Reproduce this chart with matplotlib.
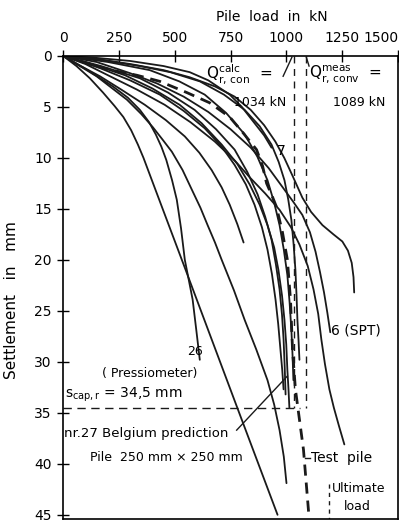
import matplotlib
import matplotlib.pyplot as plt

matplotlib.use("Agg")

plt.rcParams['font.family'] = ['DejaVu Sans']
plt.rcParams['mathtext.fontset'] = 'dejavusans'

# predicted load-settlement curves: load in kN, settlement in mm
load_7 = [0, 150, 300, 450, 567, 650, 746, 800, 857, 900, 933]
sett_7 = [0, 0.2, 0.5, 1.0, 1.6, 2.4, 3.8, 5.0, 6.6, 7.8, 9.0]

load_hook = [0, 150, 300, 450, 567, 680, 768, 840, 900, 950, 990, 1030, 1071,
             1110, 1161, 1210, 1250, 1275, 1292, 1300, 1303]
sett_hook = [0, 0.3, 0.8, 1.4, 2.1, 3.0, 4.0, 5.3, 6.8, 8.4, 10.0, 11.9, 13.9,
             15.3, 16.6, 17.5, 18.2, 19.1, 20.3, 21.7, 23.2]

load_spt = [0, 150, 300, 420, 540, 650, 750, 840, 920, 980, 1030, 1071, 1105,
            1130, 1150, 1168, 1183, 1196]
sett_spt = [0, 0.6, 1.7, 2.7, 4.0, 5.5, 7.2, 9.0, 11.0, 12.8, 14.3, 15.6, 17.3,
            19.2, 21.2, 23.2, 25.2, 27.1]

load_38 = [0, 100, 210, 330, 455, 570, 679, 770, 835, 905, 969, 1020, 1058,
           1095, 1121, 1142, 1156, 1172, 1192, 1212, 1235, 1259]
sett_38 = [0, 0.8, 2.0, 3.3, 4.8, 6.5, 8.4, 10.3, 11.9, 13.5, 15.1, 16.8, 18.5,
           20.6, 22.9, 25.3, 27.8, 30.2, 32.7, 34.5, 36.3, 38.1]

load_18 = [0, 80, 165, 260, 366, 460, 545, 610, 665, 710, 746, 780, 808]
sett_18 = [0, 1.0, 2.0, 3.3, 4.8, 6.3, 7.9, 9.5, 11.2, 12.9, 14.6, 16.5, 18.3]

load_26 = [0, 110, 223, 290, 344, 385, 415, 440, 462, 488, 509, 528, 545, 563,
           580, 597, 612]
sett_26 = [0, 1.4, 3.0, 4.1, 5.3, 6.5, 7.7, 8.9, 10.2, 12.2, 14.1, 16.9, 20.0,
           22.0, 23.9, 27.0, 29.8]

load_a1 = [0, 60, 120, 179, 230, 270, 305, 335, 360, 420, 554, 790, 960]
sett_a1 = [0, 1.0, 2.2, 3.6, 4.9, 6.0, 7.3, 8.7, 10.0, 13.5, 21.3, 35.1, 45.0]

load_a3 = [0, 150, 286, 350, 402, 445, 487, 535, 576, 615, 647, 680, 710, 765,
           813, 865, 915, 945, 969, 988, 1000]
sett_a3 = [0, 2.0, 4.3, 5.7, 7.0, 8.2, 9.4, 11.2, 13.1, 14.9, 16.6, 18.3, 20.0,
           23.0, 25.9, 28.8, 31.8, 34.2, 36.7, 39.3, 41.9]

load_27 = [0, 140, 277, 400, 522, 620, 710, 780, 835, 880, 915, 945, 964, 980,
           991, 999, 1004, 1009, 1013]
sett_27 = [0, 0.9, 1.9, 3.2, 4.8, 6.6, 8.7, 10.6, 12.6, 14.6, 16.6, 18.8, 21.0,
           23.5, 25.9, 28.3, 30.8, 32.7, 34.5]

load_b2 = [0, 170, 344, 470, 589, 685, 768, 825, 871, 905, 933, 953, 969, 980,
           987, 992, 996]
sett_b2 = [0, 1.0, 2.2, 3.6, 5.3, 7.2, 9.2, 11.4, 13.6, 15.8, 18.0, 20.5, 22.9,
           25.4, 27.8, 30.5, 33.2]

load_b3 = [0, 200, 388, 520, 634, 730, 813, 870, 915, 945, 969, 988, 1004, 1014,
           1022, 1027, 1031]
sett_b3 = [0, 0.6, 1.4, 2.5, 3.8, 5.6, 7.7, 9.9, 12.2, 14.4, 16.6, 19.0, 21.5,
           24.2, 26.9, 29.3, 31.8]

load_b5 = [0, 165, 300, 433, 540, 634, 710, 768, 818, 857, 890, 915, 935, 951,
           963, 973, 981, 987]
sett_b5 = [0, 1.2, 2.4, 3.8, 5.4, 7.1, 8.9, 10.7, 12.6, 14.6, 16.8, 19.0, 21.4,
           23.9, 26.3, 28.8, 30.8, 32.7]

load_b6 = [0, 170, 344, 480, 612, 720, 813, 880, 933, 965, 991, 1008, 1022, 1032,
           1040, 1045, 1049, 1054, 1058]
sett_b6 = [0, 0.4, 1.0, 1.6, 2.5, 3.8, 5.3, 6.9, 8.7, 10.4, 12.2, 14.1, 16.1, 18.5,
           21.0, 23.5, 25.9, 27.9, 29.8]

# measured test pile
load_test = [0, 90, 179, 260, 330, 433, 554, 656, 746, 804, 866, 893, 911, 935,
             955, 982, 1004, 1018, 1027, 1040, 1054, 1076, 1100]
sett_test = [0, 0.6, 1.2, 1.6, 1.9, 2.5, 3.6, 4.6, 6.0, 7.5, 9.2, 10.8, 12.5, 13.7,
             14.8, 17.3, 20.0, 23.9, 28.8, 32.7, 35.0, 38.6, 45.0]

q_calc = 1034
q_meas = 1089
s_cap = 34.5
q_ult = 1192

curves = [(load_7, sett_7), (load_hook, sett_hook), (load_spt, sett_spt),
          (load_38, sett_38), (load_18, sett_18), (load_26, sett_26),
          (load_a1, sett_a1), (load_a3, sett_a3), (load_27, sett_27),
          (load_b2, sett_b2), (load_b3, sett_b3), (load_b5, sett_b5),
          (load_b6, sett_b6)]

ink = '#1a1a1a'

fig = plt.figure(figsize=(3.99, 5.22), dpi=100)
ax = fig.add_axes([0.158, 0.006, 0.84, 0.887])

for q, s in curves:
    ax.plot(q, s, color=ink, lw=1.3, solid_joinstyle='round', solid_capstyle='round')

ax.plot(load_test, sett_test, color=ink, lw=2.0, dashes=(4, 2.5))

# vertical limits and capped settlement
ax.plot([q_calc, q_calc], [0, s_cap], color=ink, lw=1.0, dashes=(5, 4))
ax.plot([q_meas, q_meas], [0, s_cap], color=ink, lw=1.0, dashes=(5, 4))
ax.plot([0, 1060], [s_cap, s_cap], color=ink, lw=1.0, dashes=(6, 4))
ax.plot([q_ult, q_ult], [42.0, 45.4], color=ink, lw=1.0, dashes=(3, 3))

# small pointers at the top of the vertical lines
ax.plot([985, q_calc - 10], [2.0, 0.15], color=ink, lw=1.0)
ax.plot([q_meas, q_meas + 12], [0.15, 1.0], color=ink, lw=1.0)
# leader for nr.27
ax.plot([777, 1004], [36.7, 31.4], color=ink, lw=1.0)
ax.plot([1085, 1105], [39.4, 39.4], color=ink, lw=1.0)

fs = 10
ax.text(935, 1.8, r'$\mathrm{Q}^{\mathrm{calc}}_{\mathrm{r,\,con}}$  =', fontsize=11,
        ha='right', va='center')
ax.text(1000, 4.6, '1034 kN', fontsize=fs - 1, ha='right', va='center')
ax.text(1100, 1.8, r'$\mathrm{Q}^{\mathrm{meas}}_{\mathrm{r,\,conv}}$  =', fontsize=11,
        ha='left', va='center')
ax.text(1442, 4.6, '1089 kN', fontsize=fs - 1, ha='right', va='center')
ax.text(955, 9.3, '7', fontsize=fs, ha='left', va='center')
ax.text(1200, 26.9, '6 (SPT)', fontsize=fs, ha='left', va='center')
ax.text(625, 29.0, '26', fontsize=fs - 1, ha='right', va='center')
ax.text(388, 31.1, '( Pressiometer)', fontsize=fs - 1, ha='center', va='center')
ax.text(8, 33.2, r'$\mathrm{s_{cap,r}}$ = 34,5 mm', fontsize=fs, ha='left', va='center')
ax.text(4, 37.0, 'nr.27 Belgium prediction', fontsize=9.5, ha='left', va='center')
ax.text(120, 39.4, 'Pile  250 mm × 250 mm', fontsize=fs - 1, ha='left', va='center')
ax.text(1108, 39.4, 'Test  pile', fontsize=fs, ha='left', va='center')
ax.text(1205, 42.4, 'Ultimate', fontsize=fs - 1, ha='left', va='center')
ax.text(1255, 44.2, 'load', fontsize=fs - 1, ha='left', va='center')

ax.set_xlim(0, 1500)
ax.set_ylim(45.4, 0)
ax.xaxis.tick_top()
ax.set_xticks(range(0, 1501, 250))
ax.set_yticks(range(0, 46, 5))
ax.tick_params(axis='both', direction='inout', length=8, width=1.0, labelsize=fs)
ax.tick_params(axis='x', pad=4)
ax.tick_params(axis='y', pad=4)
for lab in ax.get_xticklabels():
    if lab.get_text() == '1500':
        lab.set_ha('right')
for sp in ax.spines.values():
    sp.set_linewidth(1.2)

fig.text(272 / 399, 1 - 17 / 522, 'Pile  load  in  kN', fontsize=fs, ha='center', va='center')
fig.text(12 / 399, 1 - 300 / 522, 'Settlement   in   mm', fontsize=11, rotation=90,
         ha='center', va='center')

fig.savefig('out.png', dpi=100)
